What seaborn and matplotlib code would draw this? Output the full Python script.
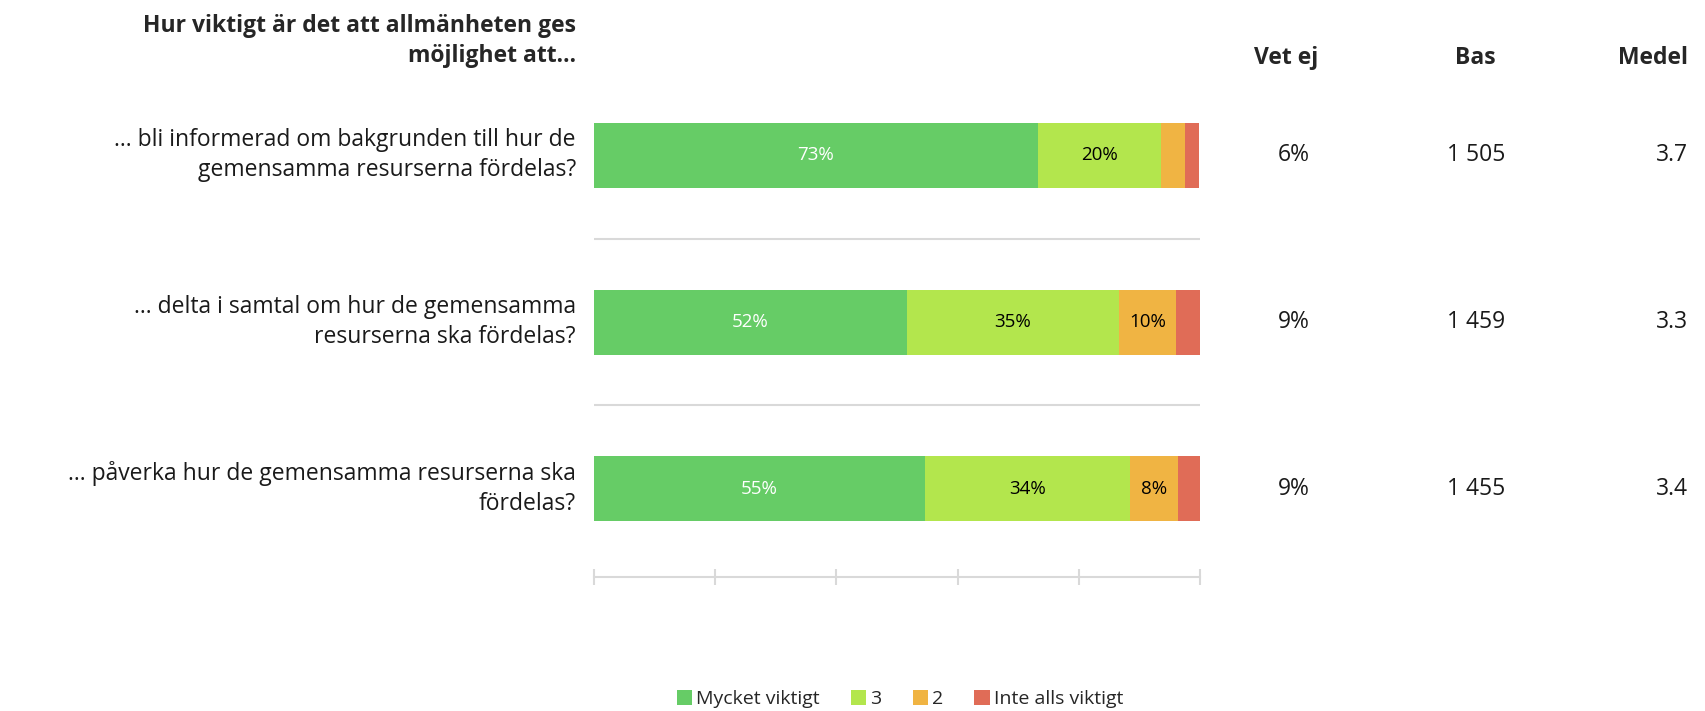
import matplotlib
matplotlib.use('Agg')
import matplotlib.pyplot as plt
import matplotlib.transforms as mtransforms
from matplotlib.patches import Patch
import numpy as np
import pandas as pd
import seaborn as sns

# %% Data ----
title = 'Hur viktigt är det att allmänheten ges\nmöjlighet att…'
questions = [
    '… bli informerad om bakgrunden till hur de\ngemensamma resurserna fördelas?',
    '... delta i samtal om hur de gemensamma\nresurserna ska fördelas?',
    '… påverka hur de gemensamma resurserna ska\nfördelas?',
]
categories = ['Mycket viktigt', '3', '2', 'Inte alls viktigt']
mycket = [73.2, 51.6, 54.6]
three = [20.3, 35.0, 33.8]
two = [4.1, 9.5, 7.9]
inte = [2.3, 3.9, 3.8]
labels_mycket = ['73%', '52%', '55%']
labels_three = ['20%', '35%', '34%']
labels_two = ['', '10%', '8%']
vet_ej = ['6%', '9%', '9%']
bas = ['1 505', '1 459', '1 455']
medel = ['3.7', '3.3', '3.4']

colors = ['#66CC66', '#B3E64D', '#F0B443', '#E06C57']

# %% Style ----
sns.set_style('white')
plt.rcParams['font.family'] = ['Open Sans', 'DejaVu Sans']

W, H = 1705, 711
fig = plt.figure(figsize=(W / 100, H / 100), dpi=100)
ax = fig.add_axes([594 / W, 1 - 577 / H, (1200 - 594) / W, (577 - 72) / H])

# stacked bars: draw cumulative totals, widest first
df = pd.DataFrame({'q': questions, 'a': mycket, 'b': three, 'c': two, 'd': inte})
cum = df[['a', 'b', 'c', 'd']].cumsum(axis=1)
for col, color in zip(['d', 'c', 'b', 'a'], colors[::-1]):
    sns.barplot(x=cum[col], y=df['q'], color=color, width=0.39,
                orient='h', ax=ax, saturation=1, linewidth=0)

# segment labels
for i in range(len(questions)):
    ax.text(mycket[i] / 2, i, labels_mycket[i], ha='center', va='center',
            color='white', fontsize=13.5)
    ax.text(mycket[i] + three[i] / 2, i, labels_three[i], ha='center',
            va='center', color='black', fontsize=13.5)
    if labels_two[i]:
        ax.text(mycket[i] + three[i] + two[i] / 2, i, labels_two[i],
                ha='center', va='center', color='black', fontsize=13.5)

ax.set_xlim(0, 100)
ax.set_ylim(2.53, -0.5)
ax.set_xlabel('')
ax.set_ylabel('')
ax.set_yticks([])
ax.set_xticks(np.arange(0, 101, 20))
ax.set_xticklabels([])
ax.tick_params(axis='x', direction='inout', length=12, width=1.5,
               color='#D9D9D9', bottom=True)
for s in ['top', 'left', 'right']:
    ax.spines[s].set_visible(False)
ax.spines['bottom'].set_color('#D9D9D9')
ax.spines['bottom'].set_linewidth(1.5)
for yy in [0.5, 1.5]:
    ax.axhline(yy, color='#D9D9D9', lw=1.5)

# left labels and right columns
trans = mtransforms.blended_transform_factory(fig.transFigure, ax.transData)
for i, q in enumerate(questions):
    ax.text(576 / W, i, q, transform=trans, ha='right', va='center',
            fontsize=16.5, linespacing=1.35, color='#1a1a1a')
    ax.text(1294 / W, i, vet_ej[i], transform=trans, ha='center',
            va='center', fontsize=16.5, color='#1a1a1a')
    ax.text(1476 / W, i, bas[i], transform=trans, ha='center',
            va='center', fontsize=16.5, color='#1a1a1a')
    ax.text(1688 / W, i, medel[i], transform=trans, ha='right',
            va='center', fontsize=16.5, color='#1a1a1a')

fig.text(576 / W, 1 - 41 / H, title, ha='right', va='center', fontsize=16.5,
         fontweight='bold', linespacing=1.35)
fig.text(1286 / W, 1 - 58 / H, 'Vet ej', ha='center', va='center',
         fontsize=16.5, fontweight='bold')
fig.text(1475 / W, 1 - 58 / H, 'Bas', ha='center', va='center',
         fontsize=16.5, fontweight='bold')
fig.text(1688 / W, 1 - 58 / H, 'Medel', ha='right', va='center',
         fontsize=16.5, fontweight='bold')

handles = [Patch(facecolor=c, edgecolor='none') for c in colors]
fig.legend(handles, categories, loc='center', bbox_to_anchor=(900 / W, 1 - 699 / H),
           ncol=4, frameon=False, fontsize=14, handlelength=0.8,
           handleheight=0.8, handletextpad=0.2, columnspacing=1.6)

fig.savefig('out.png', dpi=100)
